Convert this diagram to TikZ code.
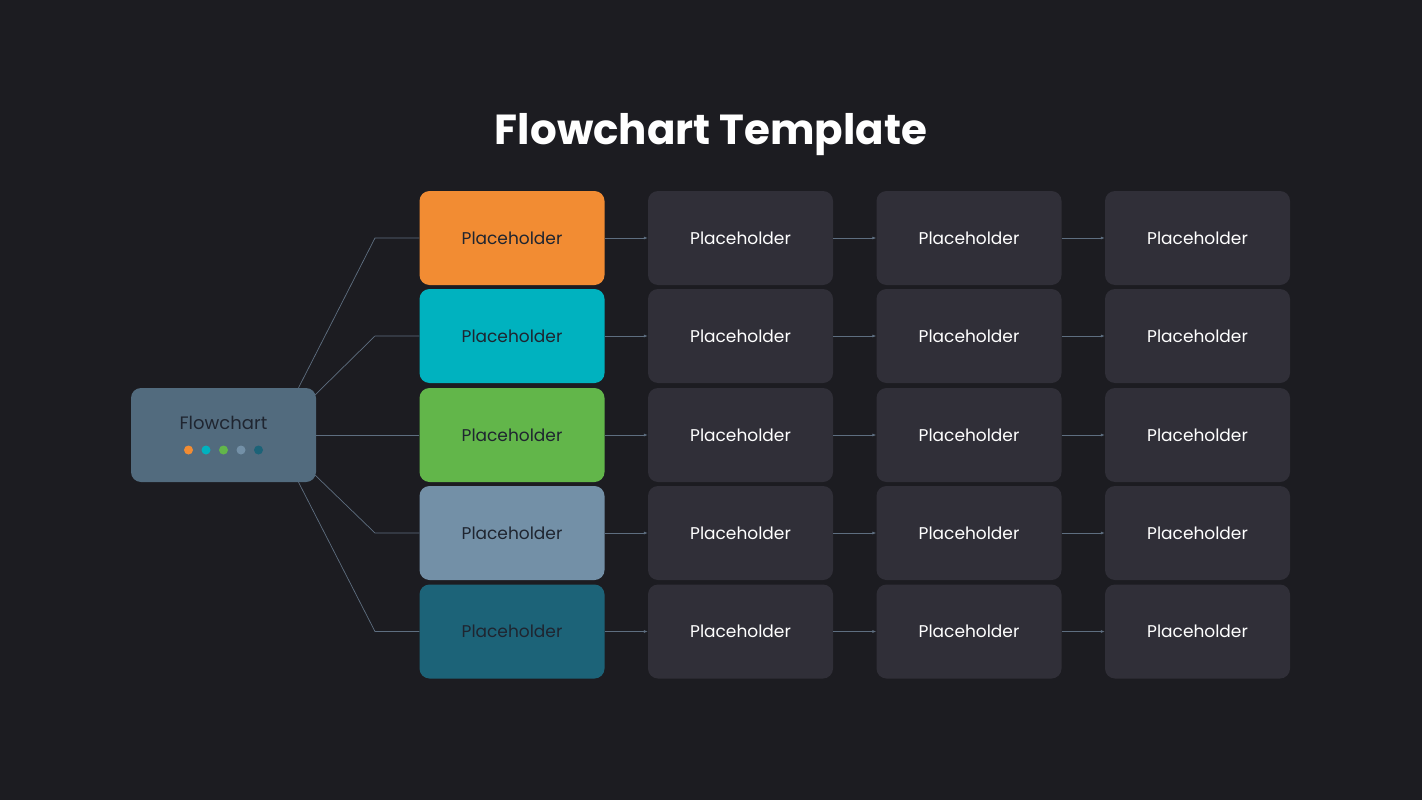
\documentclass[tikz,border=0pt]{standalone}
\usepackage{fontspec}
\setmainfont{Poppins}
\usetikzlibrary{
    arrows.meta,
    positioning
}
\definecolor{bgdark}{HTML}{1C1C21}
\definecolor{cardgray}{HTML}{302F38}
\definecolor{rootblue}{HTML}{526B7E}
\definecolor{linegray}{HTML}{5E6E80}
\definecolor{inkdark}{HTML}{1F2530}
\definecolor{cOne}{HTML}{F28C33}
\definecolor{cTwo}{HTML}{00B2BF}
\definecolor{cThree}{HTML}{62B64A}
\definecolor{cFour}{HTML}{7390A7}
\definecolor{cFive}{HTML}{1C6378}

\begin{document}
\begin{tikzpicture}[x=1pt,y=-1pt,
    card/.style={rounded corners=10pt, minimum width=185pt, minimum height=94pt,
        inner sep=0pt, font=\fontsize{17}{20}\selectfont},
    stepcard/.style={card, fill=cardgray, text=white},
    link/.style={draw=linegray, line width=0.7pt},
    flow/.style={link, -{Latex[length=4pt,width=3pt]}}]
    \fill[bgdark] (0,0) rectangle (1422,800);
    \useasboundingbox (0,0) rectangle (1422,800);

    \node[font=\fontsize{42}{48}\selectfont\bfseries, text=white] (title) at (711,135) {Flowchart Template};

    % root card
    \node[card, fill=rootblue] (root) at (223.5,435) {};
    \node[font=\fontsize{18}{20}\selectfont, text=inkdark] (rootlabel) at (223.5,423) {Flowchart};
    \foreach \c [count=\i] in {cOne,cTwo,cThree,cFour,cFive}
        \fill[\c] (171+17.5*\i,450) circle (4.5pt);

    % rows
    \foreach \c/\y [count=\r] in {cOne/238,cTwo/336,cThree/435,cFour/533,cFive/631.5} {
        \node[card, fill=\c, text=inkdark] (a\r) at (512,\y) {Placeholder};
        \node[stepcard] (b\r) at (740.5,\y) {Placeholder};
        \node[stepcard] (c\r) at (969,\y) {Placeholder};
        \node[stepcard] (d\r) at (1197.5,\y) {Placeholder};
        \draw[flow] (a\r) -- (b\r);
        \draw[flow] (b\r) -- (c\r);
        \draw[flow] (c\r) -- (d\r);
    }

    % branches
    \draw[link] (root.north) ++(75,0) -- (375,238) -- (a1.west);
    \draw[link] (root.north east) ++(-1,7) -- (375,336) -- (a2.west);
    \draw[link] (root.east) -- (a3.west);
    \draw[link] (root.south east) ++(-1,-7) -- (375,533) -- (a4.west);
    \draw[link] (root.south) ++(75,0) -- (375,631.5) -- (a5.west);
\end{tikzpicture}
\end{document}
